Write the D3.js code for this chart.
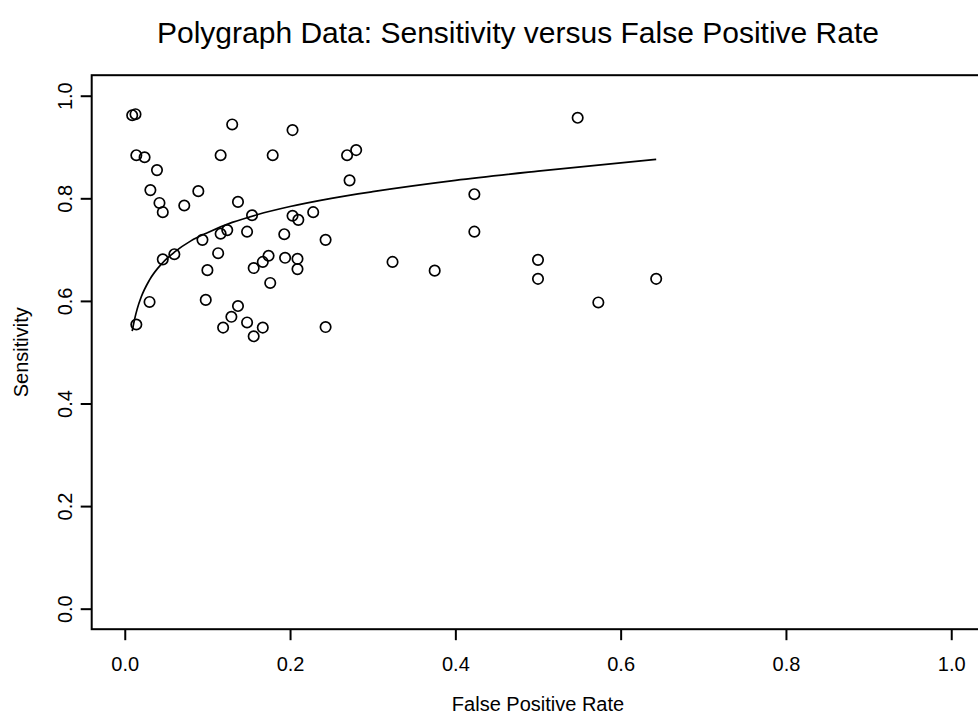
<!DOCTYPE html>
<html>
<head>
<meta charset="utf-8">
<script src="https://cdn.jsdelivr.net/npm/d3@7"></script>
<style>
  body { margin: 0; background: #fff; }
  svg { display: block; font-family: 'Liberation Sans', Arial, sans-serif; }
  .axis text { font-size: 20px; fill: #000; }
  .axis path, .axis line { stroke: #000; stroke-width: 2; }
  .label { font-size: 20px; fill: #000; }
  .title { font-size: 30px; fill: #000; }
</style>
</head>
<body>
<div id="chart"></div>
<script>
// polygraph studies: false positive rate and sensitivity
const fpr = [0.009, 0.013, 0.130, 0.203, 0.014, 0.024, 0.116, 0.179, 0.269, 0.280,
  0.039, 0.272, 0.031, 0.089, 0.042, 0.046, 0.072, 0.137, 0.154, 0.203,
  0.210, 0.228, 0.124, 0.116, 0.094, 0.148, 0.193, 0.243, 0.046, 0.060,
  0.113, 0.100, 0.174, 0.167, 0.156, 0.194, 0.209, 0.209, 0.176, 0.030,
  0.098, 0.137, 0.129, 0.148, 0.119, 0.167, 0.156, 0.243, 0.014, 0.324,
  0.548, 0.423, 0.423, 0.375, 0.500, 0.500, 0.643, 0.573];
const sens = [0.962, 0.964, 0.944, 0.933, 0.884, 0.880, 0.884, 0.884, 0.884, 0.894,
  0.855, 0.835, 0.816, 0.814, 0.791, 0.773, 0.786, 0.793, 0.767, 0.766,
  0.758, 0.773, 0.738, 0.731, 0.719, 0.735, 0.730, 0.719, 0.681, 0.691,
  0.693, 0.660, 0.688, 0.676, 0.664, 0.684, 0.682, 0.662, 0.635, 0.598,
  0.602, 0.590, 0.569, 0.558, 0.548, 0.548, 0.531, 0.549, 0.554, 0.676,
  0.957, 0.808, 0.735, 0.659, 0.680, 0.643, 0.643, 0.597];

// fitted summary curve, read along its length
const curveFpr = [0.009, 0.012, 0.015, 0.02, 0.03, 0.045, 0.06, 0.08, 0.1, 0.13,
  0.16, 0.2, 0.25, 0.3, 0.4, 0.5, 0.643];
const curveSens = [0.541, 0.565, 0.584, 0.608, 0.641, 0.673, 0.695, 0.717, 0.733, 0.753,
  0.768, 0.784, 0.800, 0.813, 0.835, 0.853, 0.876];

const xTicks = [0, 0.2, 0.4, 0.6, 0.8, 1];
const yTicks = [0, 0.2, 0.4, 0.6, 0.8, 1];

const config = {
  'width': 978,
  'height': 718,
  'left': 91.7,
  'right': 984.3,
  'top': 75.2,
  'bottom': 629.2
}

const svg = d3.select('#chart').append('svg')
  .attr('width', config.width)
  .attr('height', config.height);

const x = d3.scaleLinear()
  .domain([-0.04, 1.04])
  .range([config.left, config.right]);

const y = d3.scaleLinear()
  .domain([-0.04, 1.04])
  .range([config.bottom, config.top]);

const xAxis = d3.axisBottom(x)
  .tickValues(xTicks)
  .tickSize(11)
  .tickPadding(10)
  .tickFormat(d3.format('.1f'));

const yAxis = d3.axisLeft(y)
  .tickValues(yTicks)
  .tickSize(11)
  .tickFormat(d3.format('.1f'));

svg.append('g')
  .attr('class', 'axis x')
  .attr('transform', `translate(0, ${config.bottom})`)
  .call(xAxis)
  .call(g => g.select('path.domain').remove())
  .selectAll('.tick text')
    .attr('dy', null)
    .attr('y', 42);

svg.append('g')
  .attr('class', 'axis y')
  .attr('transform', `translate(${config.left}, 0)`)
  .call(yAxis)
  .call(g => g.select('path.domain').remove())
  .selectAll('.tick text')
    .attr('text-anchor', 'middle')
    .attr('dy', null)
    .attr('x', null)
    .attr('transform', 'translate(-20, 0) rotate(-90)');

// box round the plot region
svg.append('rect')
  .attr('x', config.left)
  .attr('y', config.top)
  .attr('width', config.right - config.left)
  .attr('height', config.bottom - config.top)
  .attr('fill', 'none')
  .attr('stroke', '#000')
  .attr('stroke-width', 2);

const line = d3.line()
  .x((d, i) => x(curveFpr[i]))
  .y((d, i) => y(curveSens[i]))
  .curve(d3.curveMonotoneX);

svg.append('path')
  .datum(curveFpr)
  .attr('d', line)
  .attr('fill', 'none')
  .attr('stroke', '#000')
  .attr('stroke-width', 1.7);

svg.selectAll('circle.pt')
  .data(fpr)
  .join('circle')
    .attr('class', 'pt')
    .attr('cx', d => x(d))
    .attr('cy', (d, i) => y(sens[i]))
    .attr('r', 5.2)
    .attr('fill', 'none')
    .attr('stroke', '#000')
    .attr('stroke-width', 1.7);

svg.append('text')
  .attr('class', 'title')
  .attr('x', 518)
  .attr('y', 43)
  .attr('text-anchor', 'middle')
  .text('Polygraph Data: Sensitivity versus False Positive Rate');

svg.append('text')
  .attr('class', 'label')
  .attr('x', (config.left + config.right) / 2)
  .attr('y', 711)
  .attr('text-anchor', 'middle')
  .text('False Positive Rate');

svg.append('text')
  .attr('class', 'label')
  .attr('transform', `translate(28, ${(config.top + config.bottom) / 2}) rotate(-90)`)
  .attr('text-anchor', 'middle')
  .text('Sensitivity');
</script>
</body>
</html>
